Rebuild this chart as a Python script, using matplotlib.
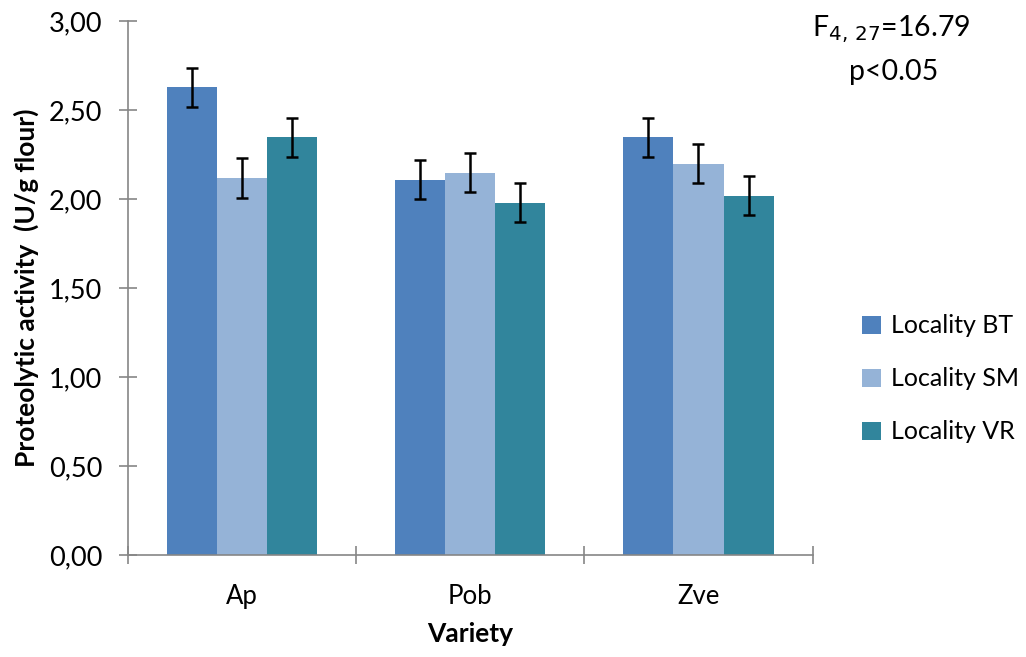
import numpy as np
import matplotlib.pyplot as plt

# data
varieties = ["Ap", "Pob", "Zve"]
localities = ["Locality BT", "Locality SM", "Locality VR"]
bt = [2.63, 2.11, 2.35]
sm = [2.12, 2.15, 2.20]
vr = [2.35, 1.98, 2.02]
bt_err = [0.11, 0.11, 0.11]
sm_err = [0.11, 0.11, 0.11]
vr_err = [0.11, 0.11, 0.11]
yticks = [0, 0.5, 1.0, 1.5, 2.0, 2.5, 3.0]

colors = ["#4F81BD", "#95B3D7", "#31859C"]
axcol = "#868686"

plt.rcParams['font.family'] = ['Lato', 'DejaVu Sans']

fig = plt.figure(figsize=(10.26, 6.57), dpi=100)
ax = fig.add_axes([0.1245, 0.1553, 0.6675, 0.812])

x = np.arange(len(varieties))
w = 0.22
series = [bt, sm, vr]
errs = [bt_err, sm_err, vr_err]
for i in range(3):
    ax.bar(x + (i - 1) * w, series[i], w, color=colors[i], label=localities[i],
           yerr=errs[i], error_kw=dict(ecolor="black", elinewidth=1.8, capsize=4.5, capthick=1.8))

ax.set_xlim(-0.5, 2.5)
ax.set_ylim(0, 3)
ax.set_yticks(yticks)
ax.set_yticklabels([("%.2f" % v).replace(".", ",") for v in yticks])
ax.set_xticks(x)
ax.set_xticklabels(varieties)
ax.set_xticks([-0.5, 0.5, 1.5, 2.5], minor=True)

for s in ["top", "right"]:
    ax.spines[s].set_visible(False)
for s in ["left", "bottom"]:
    ax.spines[s].set_color(axcol)
    ax.spines[s].set_linewidth(1.2)

ax.tick_params(axis="y", direction="inout", length=13, width=1.2, color=axcol, labelsize=19.5, pad=12)
ax.tick_params(axis="x", which="major", length=0, labelsize=18.5, pad=21)
ax.tick_params(axis="x", which="minor", direction="inout", length=13, width=1.2, color=axcol)

ax.set_ylabel("Proteolytic activity  (U/g flour)", fontsize=19, fontweight="bold", labelpad=7)
ax.set_xlabel("Variety", fontsize=19, fontweight="bold", labelpad=9)

ax.legend(loc="center left", bbox_to_anchor=(1.04, 0.33), frameon=False, fontsize=18,
          handlelength=0.75, handleheight=0.75, handletextpad=0.4, labelspacing=1.2)

fig.text(0.869, 0.955, r"F$_{4,\,27}$=16.79", fontsize=20.5, ha="center", va="center")
fig.text(0.871, 0.89, "p<0.05", fontsize=20.5, ha="center", va="center")

fig.savefig("out.png", dpi=100)
